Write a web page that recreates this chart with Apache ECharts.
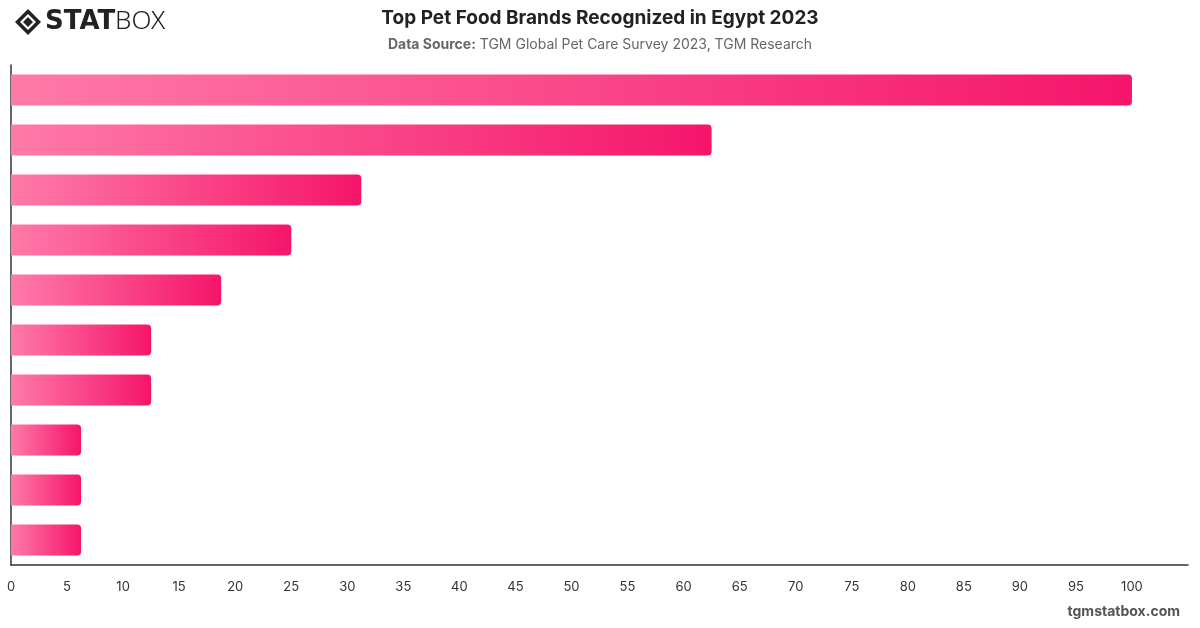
<!DOCTYPE html>
<html>
<head>
<meta charset="utf-8">
<script src="https://cdn.jsdelivr.net/npm/echarts@6/dist/echarts.min.js"></script>
<style>
  html, body { margin: 0; padding: 0; background: #fff; }
  #chart { width: 1200px; height: 628px; }
</style>
</head>
<body>
<div id="chart"></div>
<script>
// brand names are not shown in the picture, only bar lengths
var brands = ['Brand 1', 'Brand 2', 'Brand 3', 'Brand 4', 'Brand 5', 'Brand 6', 'Brand 7', 'Brand 8', 'Brand 9', 'Brand 10']
var scores = [100, 62.5, 31.25, 25, 18.75, 12.5, 12.5, 6.25, 6.25, 6.25]
var ticks = [0, 5, 10, 15, 20, 25, 30, 35, 40, 45, 50, 55, 60, 65, 70, 75, 80, 85, 90, 95, 100]

var myChart = echarts.init(document.getElementById('chart'))

var option = {
  animation: false,
  title: [{
    text: 'Top Pet Food Brands Recognized in Egypt 2023',
    left: 'center',
    top: 4,
    textStyle: { fontFamily: 'Inter', fontSize: 19, fontWeight: 'bold', color: '#222' }
  }, {
    text: '{b|Data Source:} TGM Global Pet Care Survey 2023, TGM Research',
    left: 'center',
    top: 33,
    textStyle: {
      fontFamily: 'Inter', fontSize: 14, fontWeight: 'normal', color: '#666',
      rich: { b: { fontFamily: 'Inter', fontSize: 14, fontWeight: 'bold', color: '#666' } }
    }
  }],
  graphic: [
    {
      type: 'group', left: 15, top: 9,
      children: [
        { type: 'polygon', shape: { points: [[13, 0], [26, 13], [13, 26], [0, 13]] }, style: { fill: '#222' } },
        { type: 'polygon', shape: { points: [[13, 5], [21, 13], [13, 21], [5, 13]] }, style: { fill: '#fff' } },
        { type: 'polygon', shape: { points: [[13, 8], [18, 13], [13, 18], [8, 13]] }, style: { fill: '#222' } },
        { type: 'text', left: 30, top: 0, style: { text: 'STAT', font: '900 26px "DejaVu Sans"', fill: '#222' } },
        { type: 'text', left: 100, top: 0, style: { text: 'BOX', font: '300 26px "Noto Sans"', fill: '#222' } }
      ]
    },
    {
      type: 'text', right: 20, top: 605,
      style: { text: 'tgmstatbox.com', font: 'bold 14px Inter', fill: '#555' }
    }
  ],
  grid: { left: 11, right: 12, top: 65, bottom: 63, containLabel: false },
  xAxis: {
    type: 'value',
    min: 0,
    max: 105,
    interval: 5,
    splitLine: { show: false },
    axisLine: { show: true, lineStyle: { color: '#333', width: 1.5 } },
    axisTick: { show: false },
    axisLabel: {
      margin: 16,
      color: '#333',
      fontFamily: 'Inter',
      fontSize: 13,
      showMaxLabel: false,
      formatter: function (v) { return ticks.indexOf(v) >= 0 ? String(v) : '' }
    }
  },
  yAxis: {
    type: 'category',
    data: brands,
    inverse: true,
    axisLine: { show: true, lineStyle: { color: '#333', width: 1.5 } },
    axisTick: { show: false },
    axisLabel: { show: false }
  },
  series: [{
    type: 'bar',
    data: scores,
    barWidth: 31,
    itemStyle: {
      borderRadius: [0, 4, 4, 0],
      color: new echarts.graphic.LinearGradient(0, 0, 1, 0, [
        { offset: 0, color: '#ff7aa8' },
        { offset: 1, color: '#f5156a' }
      ])
    }
  }]
}

myChart.setOption(option)
</script>
</body>
</html>
